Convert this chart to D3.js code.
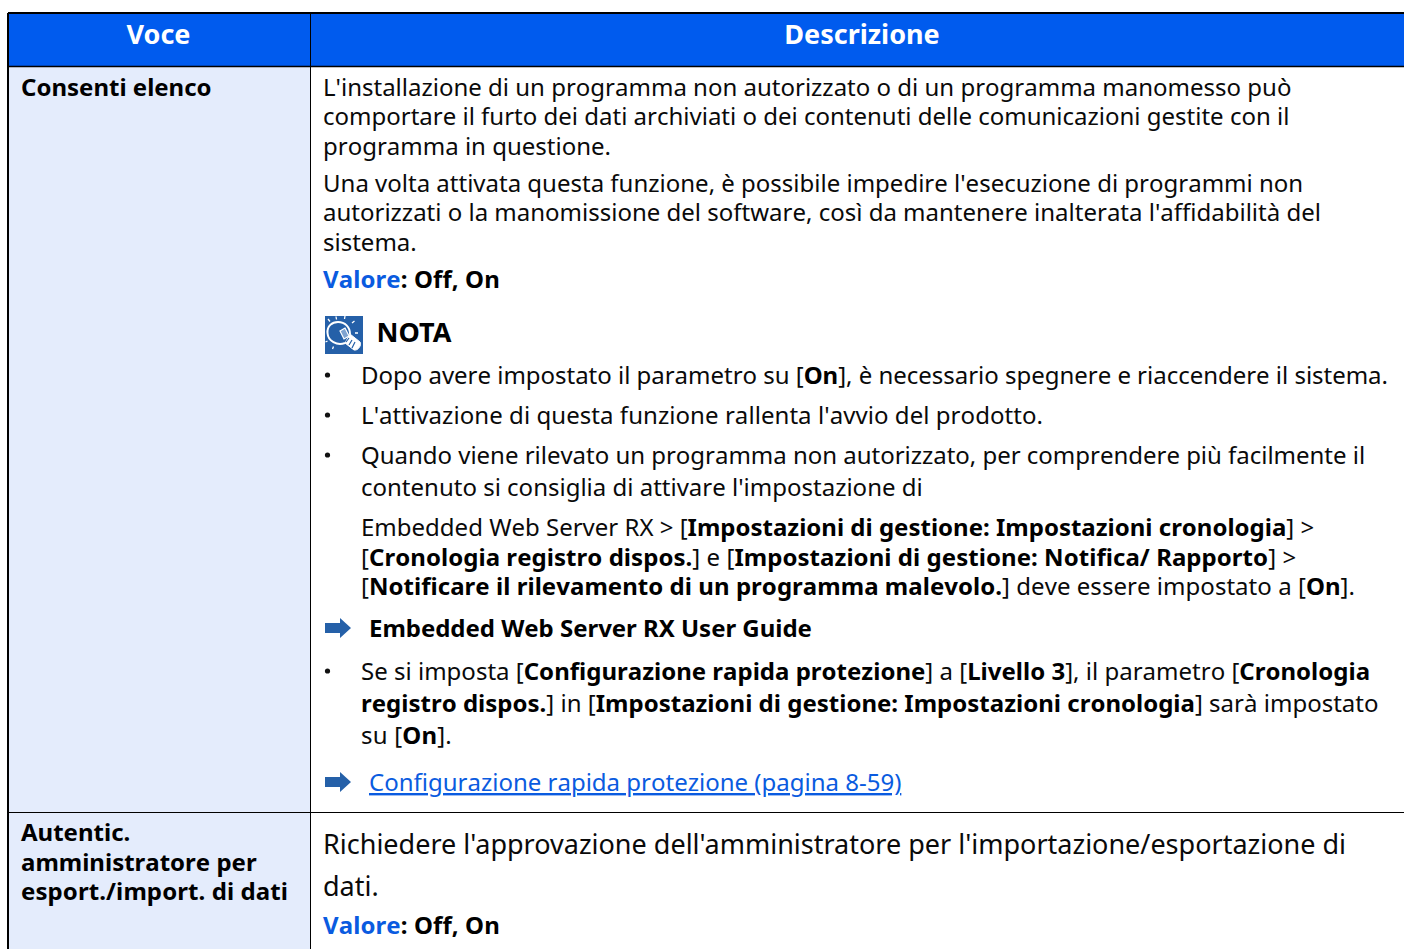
<!DOCTYPE html>
<html>
<head>
  <meta charset="utf-8">
  <title>Voce / Descrizione</title>
  <script src="https://d3js.org/d3.v7.min.js"></script>
  <style>
    html, body { margin: 0; padding: 0; background: white; overflow: hidden; }
    text { font-family: "Noto Sans", sans-serif; fill: #0a0a0a; white-space: pre; font-kerning: none; }
    .bold { font-weight: 700; fill: #000; }
    .blue { font-weight: 700; fill: #0a5be0; }
    .link { fill: #0a5be0; text-decoration: underline; }
    .big { font-kerning: normal; }
  </style>
</head>
<body>
  <svg id="screen"></svg>

  <script>
    // table content. ** = bold, {{ }} = blue bold, [[ ]] = link
    const headers = ['Voce', 'Descrizione']
    const rowLabels = [
      ['Consenti elenco'],
      ['Autentic.', 'amministratore per', 'esport./import. di dati']
    ]
    const bodyLines = [
      "L'installazione di un programma non autorizzato o di un programma manomesso può",
      "comportare il furto dei dati archiviati o dei contenuti delle comunicazioni gestite con il",
      "programma in questione.",
      "Una volta attivata questa funzione, è possibile impedire l'esecuzione di programmi non",
      "autorizzati o la manomissione del software, così da mantenere inalterata l'affidabilità del",
      "sistema.",
      "{{Valore}}**: Off, On**",
      "**NOTA**",
      "Dopo avere impostato il parametro su [**On**], è necessario spegnere e riaccendere il sistema.",
      "L'attivazione di questa funzione rallenta l'avvio del prodotto.",
      "Quando viene rilevato un programma non autorizzato, per comprendere più facilmente il",
      "contenuto si consiglia di attivare l'impostazione di",
      "Embedded Web Server RX > [**Impostazioni di gestione: Impostazioni cronologia**] >",
      "[**Cronologia registro dispos.**] e [**Impostazioni di gestione: Notifica/ Rapporto**] >",
      "[**Notificare il rilevamento di un programma malevolo.**] deve essere impostato a [**On**].",
      "**Embedded Web Server RX User Guide**",
      "Se si imposta [**Configurazione rapida protezione**] a [**Livello 3**], il parametro [**Cronologia**",
      "**registro dispos.**] in [**Impostazioni di gestione: Impostazioni cronologia**] sarà impostato",
      "su [**On**].",
      "[[Configurazione rapida protezione (pagina 8-59)]]",
      "Richiedere l'approvazione dell'amministratore per l'importazione/esportazione di",
      "dati.",
      "{{Valore}}**: Off, On**"
    ]

    // layout, kept apart from the content above
    const width = 1404, height = 949
    const col = {left: 8, split: 310.5, right: 1410}
    const row = {top: 13, head: 66.5, split: 812.5, bottom: 960}
    const bodyX = [323,323,323,323,323,323,323,376.5,361,361,361,361,361,361,361,369,361,361,361,369,323,323,323]
    const bodyY = [96,125,155,192,221,251,288,342,384,424,464,496,536,566,595,637,680,712,744,791,854,896,934]
    const bodySize = [24,24,24,24,24,24,24,27,24,24,24,24,24,24,24,24,24,24,24,24,27,27,24]
    const bodyTrack = [0,0,0,0,0,0,0.1,0,-0.02,0.06,-0.02,0,0,0.05,0.04,-0.03,0.01,0.01,0.2,0,0,0,0.1]
    const bulletY = [384, 424, 464, 680]
    const arrowY = [628, 782]
    const labelY = [[96], [841, 871, 900]]
    const labelTrack = [[0], [0, 0, 0.09]]

    const blue = '#005bee', pale = '#e4ecfc', iconBlue = '#2560a8'

    const svg = d3.select('#screen').attr('width', width).attr('height', height)
      .style('display', 'block')

    // split the little markup into styled runs
    function runs(s) {
      const out = []
      const re = /\*\*(.+?)\*\*|\{\{(.+?)\}\}|\[\[(.+?)\]\]|([^*{]+?(?=\*\*|\{\{|\[\[|$))/g
      let m
      while ((m = re.exec(s)) !== null) {
        if (m[1]) out.push({t: m[1], c: 'bold'})
        else if (m[2]) out.push({t: m[2], c: 'blue'})
        else if (m[3]) out.push({t: m[3], c: 'link'})
        else if (m[4]) out.push({t: m[4], c: 'plain'})
      }
      return out
    }

    // backgrounds
    svg.append('rect').attr('x', col.left).attr('y', row.top)
      .attr('width', col.right - col.left).attr('height', row.head - row.top).attr('fill', blue)
    svg.append('rect').attr('x', col.left).attr('y', row.head)
      .attr('width', col.split - col.left).attr('height', row.bottom - row.head).attr('fill', pale)

    // rules
    const rules = [
      [col.left, row.top, col.right, row.top, 2],
      [col.left, row.head, col.right, row.head, 1.5],
      [col.left, row.split, col.right, row.split, 1],
      [col.left, row.top, col.left, row.bottom, 2],
      [col.split, row.top, col.split, row.bottom, 1]
    ]
    svg.selectAll('line.rule').data(rules).enter().append('line')
      .attr('class', 'rule')
      .attr('x1', d => d[0]).attr('y1', d => d[1])
      .attr('x2', d => d[2]).attr('y2', d => d[3])
      .attr('stroke', 'black').attr('stroke-width', d => d[4])

    // header text
    svg.selectAll('text.head').data(headers).enter().append('text')
      .attr('class', 'head bold big')
      .attr('x', (d, i) => i == 0 ? 158.5 : 862)
      .attr('y', 44)
      .attr('text-anchor', 'middle')
      .attr('font-size', 27)
      .style('fill', 'white')
      .text(d => d)

    // left column labels
    rowLabels.forEach(function(lines, r) {
      svg.selectAll('text.label' + r).data(lines).enter().append('text')
        .attr('class', 'bold label' + r)
        .attr('x', 21)
        .attr('y', (d, i) => labelY[r][i])
        .attr('font-size', 24)
        .style('letter-spacing', (d, i) => labelTrack[r][i] + 'px')
        .text(d => d)
    })

    // right column lines
    const lineSel = svg.selectAll('text.body').data(bodyLines).enter().append('text')
      .attr('class', (d, i) => bodySize[i] > 24 ? 'body big' : 'body')
      .attr('x', (d, i) => bodyX[i])
      .attr('y', (d, i) => bodyY[i])
      .attr('font-size', (d, i) => bodySize[i])
      .style('letter-spacing', (d, i) => bodyTrack[i] + 'px')
    lineSel.selectAll('tspan').data(d => runs(d)).enter().append('tspan')
      .attr('class', d => d.c)
      .text(d => d.t)

    // bullets
    svg.selectAll('circle.bullet').data(bulletY).enter().append('circle')
      .attr('class', 'bullet')
      .attr('cx', 327.5).attr('cy', d => d - 9).attr('r', 2.6).attr('fill', '#111')

    // arrows
    svg.selectAll('path.arrow').data(arrowY).enter().append('path')
      .attr('class', 'arrow')
      .attr('transform', d => `translate(325,${d})`)
      .attr('d', 'M0,-5 H15 V-10 L26,0 L15,10 V5 H0 Z')
      .attr('fill', iconBlue)

    // note icon: light bulb on blue square
    const icon = svg.append('g').attr('transform', 'translate(325,316)')
    icon.append('rect').attr('width', 38).attr('height', 38).attr('fill', iconBlue)
    const bulb = icon.append('g').attr('fill', 'none').attr('stroke', 'white').attr('stroke-width', 2)
    bulb.append('path')
      .attr('d', 'M20,27 C12,30 3,25 2.5,17 C2,10 7,6 13,6 C20,6 25,11 25,18')
    // screw base, solid with blue bands
    bulb.append('path')
      .attr('d', 'M25,18 L35,26 C37,29 33,35 29,34 L20,27 Z').attr('fill', 'white').attr('stroke-width', 1)
    bulb.append('path').attr('d', 'M24,22 L21,26 M27,24 L24,29 M30,26 L27,32')
      .attr('stroke', iconBlue).attr('stroke-width', 1.2)
    // filament
    bulb.append('path').attr('d', 'M15,15 L20,12 L24,20 L19,23 Z')
      .attr('stroke-width', 1.2).attr('fill', '#7fa3d0')
    // rays
    bulb.append('path')
      .attr('d', 'M11,0.5 L11.5,3.5 M20,0 L19.5,3 M29.5,5 L27,7 M3,3 L5,5.5 M33,17 L30,17 M0.5,26 L2.5,25 M7.5,33 L8.5,30.5')
      .attr('stroke-width', 1.3)
  </script>
</body>
</html>
